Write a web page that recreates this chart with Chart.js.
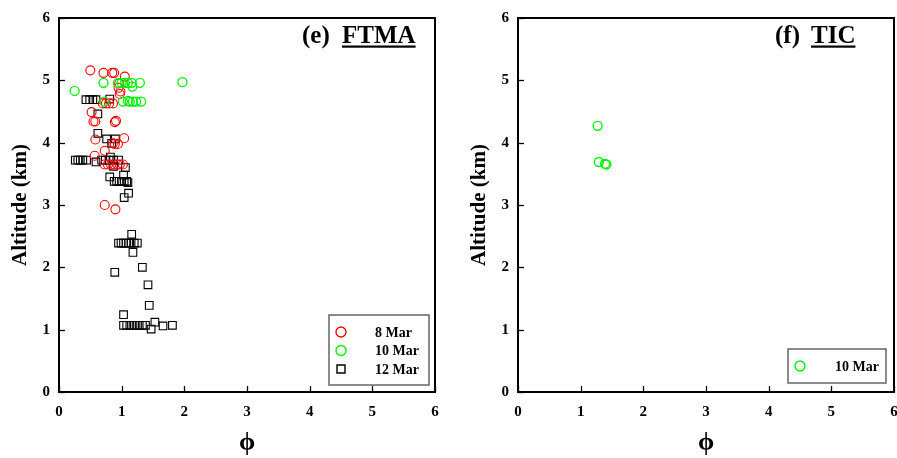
<!DOCTYPE html>
<html>
<head>
<meta charset="utf-8">
<script src="https://cdn.jsdelivr.net/npm/chart.js@4.4.1/dist/chart.umd.min.js"></script>
<style>
  html, body { margin: 0; padding: 0; background: #fff; overflow: hidden; }
  #wrap { position: relative; width: 897px; height: 458px; overflow: hidden; }
  canvas { position: absolute; top: 0; }
</style>
</head>
<body>
<div id="wrap">
  <canvas id="cA" width="450" height="458" style="left:0"></canvas>
  <canvas id="cB" width="459" height="458" style="left:450px"></canvas>
</div>
<script>
// ---------------- data ----------------
const axisTicks = [0, 1, 2, 3, 4, 5, 6];
const seriesLabels = ['8 Mar', '10 Mar', '12 Mar'];

// (e) FTMA, 8 Mar
const ftma8Phi = [0.50,0.71,0.85,0.88,1.05,0.96,0.95,0.98,0.97,0.70,0.75,0.80,0.86,0.52,0.55,0.58,0.89,0.91,0.58,1.04,0.86,0.89,0.94,0.73,0.57,0.73,0.78,0.83,0.88,0.93,0.97,1.02,0.73,0.90];
const ftma8Alt = [5.16,5.12,5.12,5.12,5.06,4.95,4.88,4.82,4.78,4.63,4.63,4.63,4.63,4.49,4.34,4.34,4.33,4.35,4.05,4.07,3.99,3.98,3.98,3.87,3.79,3.65,3.65,3.65,3.65,3.65,3.65,3.65,3.00,2.93];

// (e) FTMA, 10 Mar
const ftma10Phi = [0.25,0.71,0.94,1.00,1.05,1.10,1.16,1.17,1.29,1.97,0.72,1.02,1.10,1.13,1.18,1.23,1.31];
const ftma10Alt = [4.83,4.96,4.96,4.96,4.96,4.96,4.96,4.90,4.96,4.97,4.66,4.66,4.67,4.66,4.66,4.66,4.66];

// (e) FTMA, 12 Mar
const ftma12Phi = [0.43,0.49,0.54,0.59,0.81,0.62,0.62,0.76,0.90,0.84,0.26,0.30,0.34,0.38,0.44,0.59,0.68,0.74,0.80,0.87,0.95,0.82,0.87,1.06,1.03,0.81,0.88,0.92,0.96,1.00,1.04,1.08,1.10,1.11,1.04,1.16,0.95,0.99,1.03,1.07,1.11,1.15,1.20,1.25,1.18,0.89,1.33,1.42,1.44,1.03,1.03,1.08,1.13,1.18,1.23,1.28,1.33,1.38,1.53,1.66,1.81,1.47];
const ftma12Alt = [4.69,4.69,4.69,4.69,4.70,4.46,4.15,4.06,4.06,3.99,3.72,3.72,3.72,3.72,3.72,3.69,3.72,3.72,3.72,3.72,3.72,3.77,3.62,3.60,3.48,3.45,3.38,3.38,3.38,3.38,3.38,3.38,3.36,3.19,3.12,2.53,2.39,2.39,2.39,2.39,2.39,2.39,2.39,2.39,2.24,1.92,2.00,1.72,1.39,1.24,1.07,1.07,1.07,1.07,1.07,1.07,1.07,1.07,1.12,1.06,1.07,1.01];

// (f) TIC, 10 Mar
const tic10Phi = [1.27,1.29,1.39,1.41];
const tic10Alt = [4.27,3.69,3.66,3.65];

// ---------------- helpers ----------------
const pts = (xs, ys) => xs.map((x, i) => ({x: x, y: ys[i]}));
const SERIF = '"Liberation Serif", "Times New Roman", serif';

const styleRed   = {pointStyle: 'circle', pointRadius: 4.5, borderColor: '#ff0000', borderWidth: 1.1, backgroundColor: 'rgba(0,0,0,0)'};
const styleGreen = {pointStyle: 'circle', pointRadius: 4.5, borderColor: '#00f000', borderWidth: 1.3, backgroundColor: 'rgba(0,0,0,0)'};
const styleBlack = {pointStyle: 'rect',   pointRadius: 5.4, borderColor: '#000000', borderWidth: 1.1, backgroundColor: 'rgba(0,0,0,0)'};

const decor = {
  id: 'decor',
  afterDraw(chart, args, o) {
    const ctx = chart.ctx;
    const a = chart.chartArea;
    const xs = chart.scales.x, ys = chart.scales.y;
    ctx.save();
    // inward tick marks
    ctx.strokeStyle = '#000';
    ctx.lineWidth = 1.3;
    xs.ticks.forEach(t => {
      const px = Math.round(xs.getPixelForValue(t.value)) + 0.5;
      ctx.beginPath(); ctx.moveTo(px, a.bottom); ctx.lineTo(px, a.bottom - 6); ctx.stroke();
    });
    ys.ticks.forEach(t => {
      const py = Math.round(ys.getPixelForValue(t.value)) + 0.5;
      ctx.beginPath(); ctx.moveTo(a.left, py); ctx.lineTo(a.left + 6, py); ctx.stroke();
    });
    // frame
    ctx.lineWidth = 2;
    ctx.strokeStyle = '#000';
    ctx.strokeRect(a.left, a.top, a.right - a.left, a.bottom - a.top);

    // panel title
    ctx.fillStyle = '#000';
    ctx.font = 'bold 25px ' + SERIF;
    ctx.textBaseline = 'alphabetic';
    ctx.textAlign = 'left';
    const ty = a.top + 25;
    ctx.fillText(o.tag, a.left + o.tagDx, ty);
    const nx = a.left + o.nameDx;
    ctx.fillText(o.name, nx, ty);
    const w = ctx.measureText(o.name).width;
    ctx.fillRect(nx, ty + 2.5, w, 2.2);

    // legend box
    const bx = a.right - o.legDxRight - o.legW;
    const by = a.bottom - o.legDyBottom - o.legH;
    ctx.strokeStyle = '#666';
    ctx.lineWidth = 1.5;
    ctx.strokeRect(bx, by, o.legW, o.legH);
    ctx.font = 'bold 14px ' + SERIF;
    ctx.textBaseline = 'middle';
    chart.data.datasets.forEach((ds, i) => {
      const cy = by + o.legY0 + i * o.legStep;
      const cx = bx + 12;
      ctx.strokeStyle = ds.borderColor;
      ctx.lineWidth = 1.4;
      ctx.beginPath();
      if (ds.pointStyle === 'rect') {
        ctx.rect(cx - 4, cy - 4, 8, 8);
      } else {
        ctx.arc(cx, cy, 5, 0, Math.PI * 2);
      }
      ctx.stroke();
      ctx.fillStyle = '#000';
      ctx.fillText(ds.label, bx + o.legTextDx, cy + 1);
    });
    ctx.restore();
  }
};

function makeOptions(yAxisWidth, titlePadTop, padRight, deco) {
  return {
    responsive: false,
    animation: false,
    events: [],
    layout: {padding: {top: 16, right: padRight, left: 0, bottom: 0}},
    plugins: {legend: {display: false}, tooltip: {enabled: false}, decor: deco},
    scales: {
      x: {
        type: 'linear', min: 0, max: 6,
        afterBuildTicks: s => { s.ticks = axisTicks.map(v => ({value: v})); },
        afterFit: s => { s.height = 66; },
        grid: {display: false, drawTicks: false},
        border: {display: false},
        ticks: {color: '#000', padding: 11, font: {family: SERIF, size: 15, weight: 'bold'}},
        title: {display: true, text: 'ϕ', color: '#000', padding: {top: 0, bottom: 2},
                font: {family: SERIF, size: 26, weight: 'bold', lineHeight: 1}}
      },
      y: {
        type: 'linear', min: 0, max: 6,
        afterBuildTicks: s => { s.ticks = axisTicks.map(v => ({value: v})); },
        afterFit: s => { s.width = yAxisWidth; },
        grid: {display: false, drawTicks: false},
        border: {display: false},
        ticks: {color: '#000', padding: 9, font: {family: SERIF, size: 15, weight: 'bold'}},
        title: {display: true, text: 'Altitude (km)', color: '#000', padding: {top: titlePadTop, bottom: 0},
                font: {family: SERIF, size: 21, weight: 'bold', lineHeight: 1}}
      }
    }
  };
}

new Chart(document.getElementById('cA'), {
  type: 'scatter',
  data: {
    datasets: [
      Object.assign({label: seriesLabels[0], data: pts(ftma8Phi, ftma8Alt), order: 1}, styleRed),
      Object.assign({label: seriesLabels[1], data: pts(ftma10Phi, ftma10Alt), order: 0}, styleGreen),
      Object.assign({label: seriesLabels[2], data: pts(ftma12Phi, ftma12Alt), order: 2}, styleBlack)
    ]
  },
  options: makeOptions(59, 10, 15, {
    tag: '(e)', name: 'FTMA', tagDx: 243, nameDx: 283,
    legW: 100, legH: 70, legDxRight: 6, legDyBottom: 7,
    legY0: 17, legStep: 18.5, legTextDx: 46
  }),
  plugins: [decor]
});

new Chart(document.getElementById('cB'), {
  type: 'scatter',
  data: {
    datasets: [
      Object.assign({label: seriesLabels[1], data: pts(tic10Phi, tic10Alt)}, styleGreen)
    ]
  },
  options: makeOptions(68, 19, 15, {
    tag: '(f)', name: 'TIC', tagDx: 257, nameDx: 293,
    legW: 98, legH: 34, legDxRight: 8, legDyBottom: 9,
    legY0: 17, legStep: 18.5, legTextDx: 47
  }),
  plugins: [decor]
});
</script>
</body>
</html>
